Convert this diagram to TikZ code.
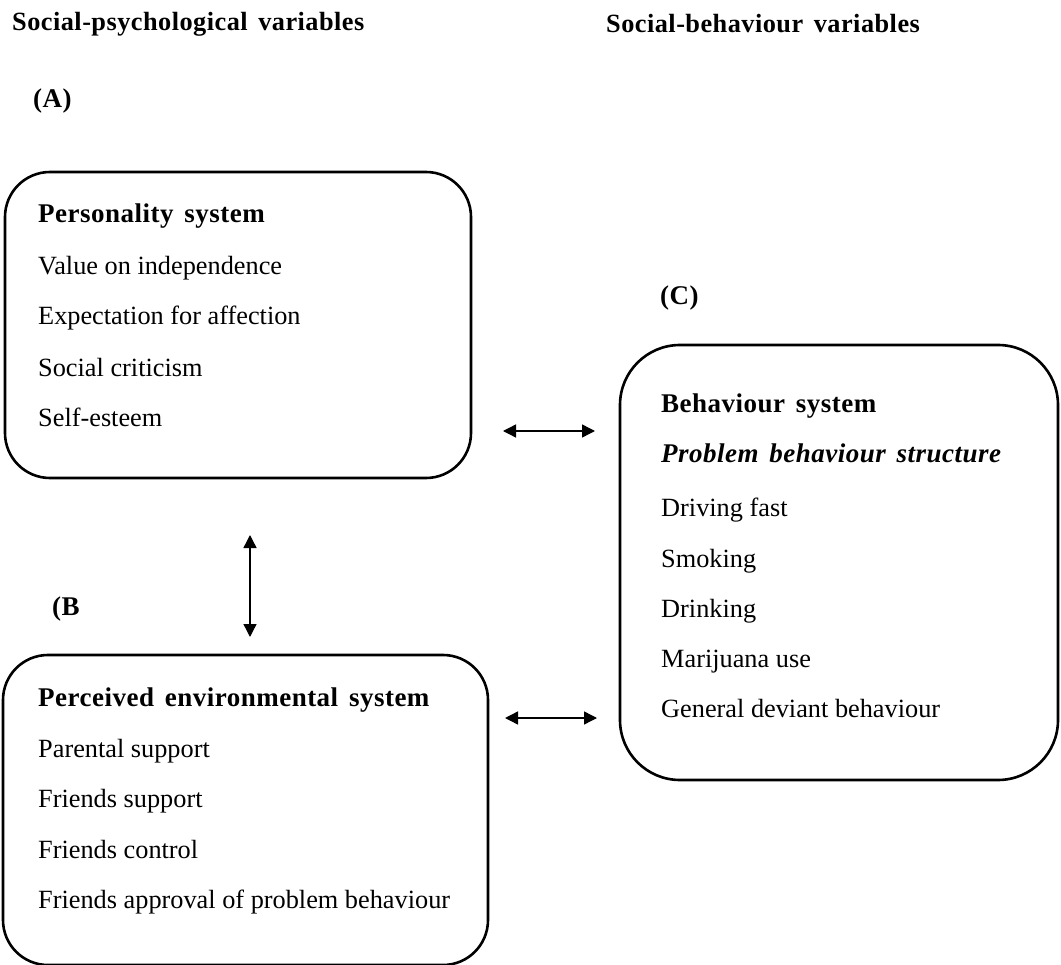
\documentclass[tikz,border=0pt]{standalone}
\usepackage{fontspec}
\setmainfont{Liberation Serif}
\newfontfamily\hdfont[LetterSpace=1.8,WordSpace=1.5]{Liberation Serif}
\usetikzlibrary{arrows.meta}
\begin{document}
\begin{tikzpicture}[x=1pt,y=-1pt,
  box/.style={draw, line width=2.6pt, rounded corners=#1, inner sep=0pt, outer sep=0pt},
  txt/.style={anchor=base west, inner sep=0pt, font=\fontsize{26.3}{30}\selectfont},
  hd/.style={anchor=base west, inner sep=0pt, font=\fontsize{27}{30}\selectfont\hdfont\bfseries},
  top/.style={anchor=base west, inner sep=0pt, font=\fontsize{26.3}{30}\selectfont\hdfont\bfseries},
  arr/.style={line width=1.4pt, {Triangle[length=13pt,width=13pt]}-{Triangle[length=13pt,width=13pt]}}
]
\useasboundingbox (0,0) rectangle (1061,965);
% headings
\node[top] (t1) at (12,31) {Social-psychological variables};
\node[top] (t2) at (606,33) {Social-behaviour variables};
\node[hd] (la) at (33,108) {(A)};
\node[hd] (lc) at (660,305) {(C)};
\node[hd] (lb) at (52,615) {(B};
% boxes
\node[box=45pt, minimum width=466pt, minimum height=306pt] (boxA) at (238,325) {};
\node[box=45pt, minimum width=485pt, minimum height=310pt] (boxB) at (245.5,810) {};
\node[box=60pt, minimum width=438pt, minimum height=435pt] (boxC) at (839,562.5) {};
% box A text
\node[hd]  (a0) at (38,223) {Personality system};
\node[txt] (a1) at (38,275) {Value on independence};
\node[txt] (a2) at (38,325) {Expectation for affection};
\node[txt] (a3) at (38,377) {Social criticism};
\node[txt] (a4) at (38,427) {Self-esteem};
% box B text
\node[hd]  (b0) at (38,706) {Perceived environmental system};
\node[txt] (b1) at (38,757) {Parental support};
\node[txt] (b2) at (38,807) {Friends support};
\node[txt] (b3) at (38,858) {Friends control};
\node[txt] (b4) at (38,908) {Friends approval of problem behaviour};
% box C text
\node[hd]  (c0) at (661,413) {Behaviour system};
\node[hd]  (c1) at (661,463) {\itshape Problem behaviour structure};
\node[txt] (c2) at (661,517) {Driving fast};
\node[txt] (c3) at (661,567) {Smoking};
\node[txt] (c4) at (661,617) {Drinking};
\node[txt] (c5) at (661,667) {Marijuana use};
\node[txt] (c6) at (661,717) {General deviant behaviour};
% connectors
\coordinate (vx) at (250,0);
\coordinate (h1) at (0,431);
\coordinate (h2) at (0,718);
\draw[arr, shorten <=57pt, shorten >=18pt] (boxA.south -| vx) -- (boxB.north -| vx);
\draw[arr, shorten <=32pt, shorten >=25pt] (boxA.east |- h1) -- (boxC.west |- h1);
\draw[arr, shorten <=17pt, shorten >=23pt] (boxB.east |- h2) -- (boxC.west |- h2);
\end{tikzpicture}
\end{document}
